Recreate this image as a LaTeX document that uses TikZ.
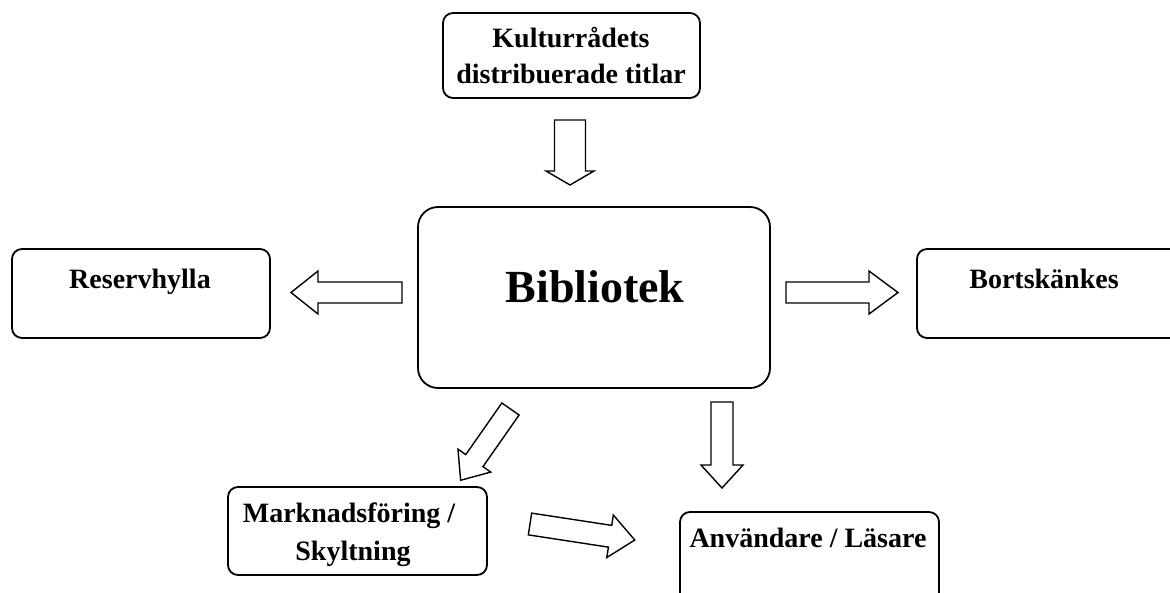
\documentclass[tikz,border=0pt]{standalone}
\usepackage{fontspec}
\setmainfont{Liberation Serif}
\tikzset{
  box/.style={draw, line width=1.8pt, rounded corners=10pt, inner sep=0pt},
  bigbox/.style={box, rounded corners=20pt},
  lbl/.style={anchor=base, inner sep=0pt, font=\fontsize{28}{36}\selectfont\bfseries},
  biglbl/.style={anchor=base, inner sep=0pt, font=\fontsize{46}{50}\selectfont\bfseries},
  arrowshape/.style={draw, line width=1.4pt, fill=white, line join=miter}
}
% #1 tail centre, #2 angle, #3 length, #4 head length, #5 shaft half width, #6 head half width
\newcommand\bkarrow[6]{%
  \begin{scope}[shift={#1}, rotate=#2]
    \draw[arrowshape] (0,-#5) -- ({#3-#4},-#5) -- ({#3-#4},-#6) -- (#3,0)
      -- ({#3-#4},#6) -- ({#3-#4},#5) -- (0,#5) -- cycle;
  \end{scope}}
\begin{document}
\begin{tikzpicture}[x=1pt, y=-1pt]
  \fill[white] (0,0) rectangle (1170,592);
  \clip (0,0) rectangle (1170,592);
  % boxes
  \node[box, minimum width=257pt, minimum height=85pt] (kult) at (571.5,55.5) {};
  \node[bigbox, minimum width=352pt, minimum height=181pt] (bib) at (594,297.5) {};
  \node[box, minimum width=258pt, minimum height=89pt] (res) at (141,293.5) {};
  \node[box, minimum width=270pt, minimum height=89pt] (bort) at (1052,293.5) {};
  \node[box, minimum width=259pt, minimum height=88pt] (mark) at (357.5,531) {};
  \node[box, minimum width=259pt, minimum height=100pt] (anv) at (809.5,562) {};
  % labels
  \node[lbl] (kultA) at (571,47) {Kulturrådets};
  \node[lbl] (kultB) at (571,83) {distribuerade titlar};
  \node[biglbl] (bibl) at (595,302) {Bibliotek};
  \node[lbl] (resl) at (140,288) {Reservhylla};
  \node[lbl] (bortl) at (1044,288) {Bortskänkes};
  \node[lbl] (markA) at (349,522) {Marknadsföring /};
  \node[lbl] (markB) at (353,560) {Skyltning};
  \node[lbl] (anvl) at (808,547) {Användare / Läsare};
  % block arrows
  \bkarrow{(570,120)}{-90}{65}{14}{15.5}{24}
  \bkarrow{(402,292.5)}{180}{111}{27}{10.5}{21.5}
  \bkarrow{(786,292.5)}{0}{112}{29}{10.5}{21.5}
  \bkarrow{(510.5,409)}{-125}{87}{24}{10.5}{20}
  \bkarrow{(722,402)}{-90}{86}{23}{11}{21}
  \bkarrow{(530,524)}{-8.7}{106}{25}{11}{21.5}
\end{tikzpicture}
\end{document}
